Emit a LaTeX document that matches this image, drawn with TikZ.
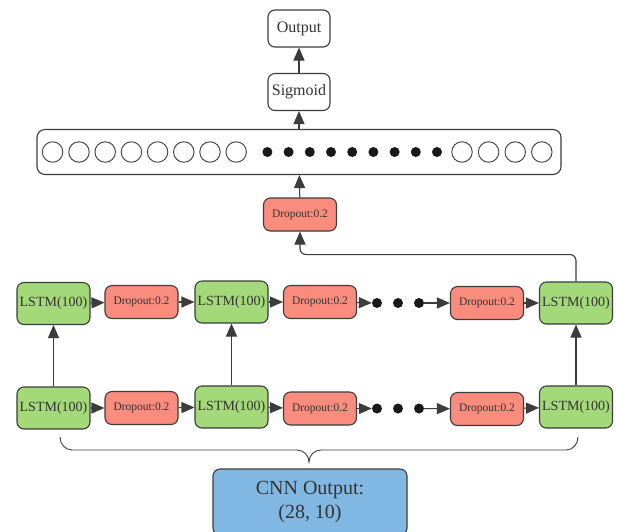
\documentclass[tikz,border=0pt]{standalone}
\usepackage{fontspec}
\setmainfont{Liberation Serif}
\usetikzlibrary{arrows.meta,calc}
\definecolor{lstmg}{HTML}{A3D978}
\definecolor{dropr}{HTML}{FA8C7E}
\definecolor{cnnb}{HTML}{80B8E3}
\definecolor{linec}{HTML}{3C3C3C}
\definecolor{txtc}{HTML}{333333}
\begin{document}
\begin{tikzpicture}[x=1pt,y=-1pt,
  box/.style={draw=linec,line width=1.1pt,rounded corners=7pt,inner sep=0pt,text=txtc},
  lstm/.style={box,fill=lstmg,minimum width=73pt,minimum height=42pt,font=\fontsize{14}{16}\selectfont},
  drop/.style={box,fill=dropr,minimum width=73pt,minimum height=33pt,font=\fontsize{11.5}{13}\selectfont},
  wbox/.style={box,fill=white,minimum width=62pt,minimum height=37pt,font=\fontsize{16}{18}\selectfont},
  neur/.style={circle,draw=linec,line width=0.9pt,fill=white,minimum size=20.5pt,inner sep=0pt},
  bdot/.style={circle,fill=black!90,minimum size=10pt,inner sep=0pt},
  arr/.style={draw=linec,line width=1.1pt,-{Triangle[length=13pt,width=11pt]}},
  line/.style={draw=linec,line width=1.1pt}]
\useasboundingbox (0,0) rectangle (617,531);
% top stack
\node[wbox] (out) at (299,28.5) {Output};
\node[wbox] (sig) at (299,92) {Sigmoid};
\node[box,fill=white,minimum width=524pt,minimum height=45pt,rounded corners=8pt] (wide) at (299,152) {};
\foreach \x [count=\i] in {52.6,79.0,105.2,131.4,157.6,183.8,210.0,236.2}
  \node[neur] (nl\i) at (\x,152) {};
\foreach \x [count=\i] in {267.4,288.6,309.8,331.0,352.2,373.4,394.6,415.8,437.0}
  \node[bdot] (nd\i) at (\x,152) {};
\foreach \x [count=\i] in {462.0,488.6,515.2,541.8}
  \node[neur] (nr\i) at (\x,152) {};
\node[drop] (dtop) at (300,214.5) {Dropout:0.2};
% top row
\node[lstm] (L1t) at (53.5,303.5) {LSTM(100)};
\node[drop] (D1t) at (141.5,302) {Dropout:0.2};
\node[lstm] (L2t) at (231.5,302) {LSTM(100)};
\node[drop] (D2t) at (320,302) {Dropout:0.2};
\node[bdot] (t1) at (377,303) {};
\node[bdot] (t2) at (398,303) {};
\node[bdot] (t3) at (419,303) {};
\node[drop] (D3t) at (487,303) {Dropout:0.2};
\node[lstm] (L3t) at (576,303) {LSTM(100)};
% bottom row
\node[lstm] (L1b) at (53.5,408) {LSTM(100)};
\node[drop] (D1b) at (141.5,408) {Dropout:0.2};
\node[lstm] (L2b) at (231.5,407) {LSTM(100)};
\node[drop] (D2b) at (320,408.5) {Dropout:0.2};
\node[bdot] (b1) at (377,408.5) {};
\node[bdot] (b2) at (398,408.5) {};
\node[bdot] (b3) at (419,408.5) {};
\node[drop] (D3b) at (487,409) {Dropout:0.2};
\node[lstm] (L3b) at (576,407) {LSTM(100)};
% CNN
\node[box,fill=cnnb,minimum width=194pt,minimum height=66pt,align=center,
  font=\fontsize{20}{24}\selectfont] (cnn) at (310,502) {CNN Output:\\(28, 10)};
% arrows top stack
\draw[arr] (sig) -- (out);
\draw[arr] (wide) -- (sig);
\draw[arr] (dtop) -- (wide);
\draw[arr,rounded corners=6pt] (L3t.north) |- ($(dtop.south)+(0,23)$) -- (dtop.south);
% horizontal arrows
\foreach \r in {t,b}{
  \draw[arr] (L1\r) -- (D1\r);
  \draw[arr] (D1\r) -- (L2\r);
  \draw[arr] (L2\r) -- (D2\r);
  \draw[arr] (D2\r) -- (\r1);
  \draw[arr] (\r3) -- (D3\r);
  \draw[arr] (D3\r) -- (L3\r);
}
% vertical arrows
\draw[arr] (L1b) -- (L1t);
\draw[arr] (L2b) -- (L2t);
\draw[arr] (L3b) -- (L3t);
% brace
\coordinate (bl) at (60,437);
\coordinate (br) at (578,437);
\coordinate (btip) at (309,462);
\draw[line,line width=0.9pt] (bl) to[out=-90,in=180] ($(bl)+(12,13)$) -- ($(btip)+(-12,-12)$)
  to[out=0,in=90] (btip) to[out=90,in=180] ($(btip)+(12,-12)$) -- ($(br)+(-12,13)$)
  to[out=0,in=-90] (br);
\end{tikzpicture}
\end{document}
